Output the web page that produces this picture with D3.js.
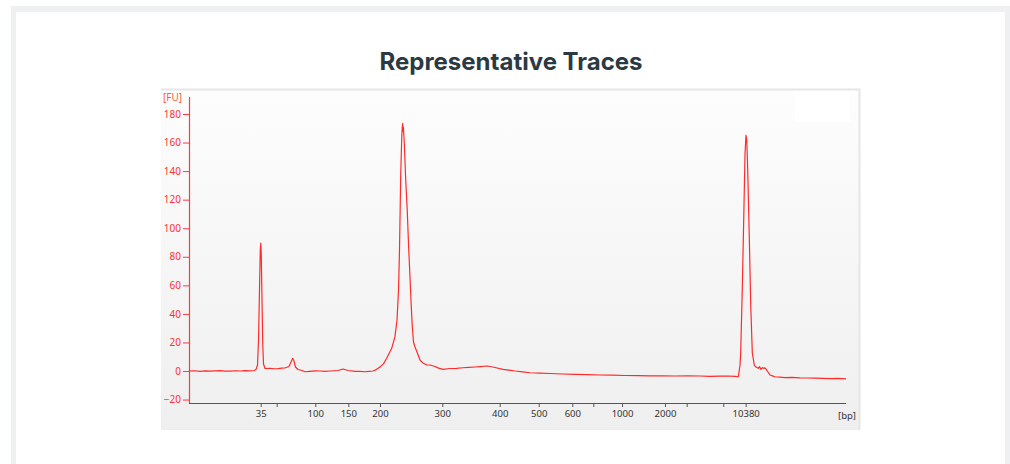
<!DOCTYPE html>
<html>
<head>
<meta charset="utf-8">
<script src="https://cdn.jsdelivr.net/npm/d3@7"></script>
<style>
  html, body { margin: 0; padding: 0; background: #ffffff; }
  svg { display: block; }
</style>
</head>
<body>
<svg id="chart" width="1010" height="464"></svg>
<script>
// ---- Data ----
// Ladder sizes (bp) and their migration times (s)
const ladderBp   = [35, 50, 100, 150, 200, 300, 400, 500, 600, 700, 1000, 2000, 3000, 7000, 10380];
const ladderTime = [30.91, 33.35, 39.22, 44.25, 49.07, 58.55, 67.29, 73.23, 78.34, 81.54, 85.91, 92.45, 95.75, 101.32, 104.73];
const labeledBp  = [35, 100, 150, 200, 300, 400, 500, 600, 1000, 2000, 10380];
const yTicks     = [-20, 0, 20, 40, 60, 80, 100, 120, 140, 160, 180];

// Electropherogram trace: time (s) and fluorescence (FU)
const traceTime = [
  20.00, 20.80, 21.67, 22.50, 23.30, 23.96, 24.80, 25.50, 26.24, 27.10, 27.80, 28.52, 29.20, 29.89, 30.20, 30.43, 30.58, 30.73, 30.85, 30.93,
  31.00, 31.11, 31.23, 31.34, 31.57, 32.33, 33.00, 33.55, 34.10, 34.61, 35.22, 35.53, 35.78, 35.98, 36.21, 36.59, 37.20, 37.66, 38.42, 39.20,
  39.94, 40.70, 41.46, 42.20, 42.68, 43.44, 44.20, 45.27, 46.00, 46.79, 47.40, 48.01, 48.50, 49.07, 49.60, 50.09, 50.85, 51.35, 51.66, 51.89,
  52.04, 52.22, 52.39, 52.47, 52.53, 52.58, 52.63, 52.77, 52.99, 53.22, 53.42, 53.64, 53.82, 53.99, 54.17, 54.40, 54.70, 55.16, 55.62, 56.18,
  56.68, 57.44, 58.00, 58.66, 59.73, 60.70, 61.70, 62.60, 63.53, 64.40, 65.36, 66.00, 66.58, 67.79, 68.70, 69.62, 70.80, 71.90, 73.40, 74.95,
  76.80, 78.75, 80.60, 82.56, 84.40, 86.36, 88.30, 90.17, 92.00, 93.97, 95.90, 97.78, 99.30, 100.82, 102.00, 103.11, 103.61, 103.87, 103.97, 104.22,
  104.43, 104.63, 104.78, 104.90, 105.04, 105.28, 105.49, 105.74, 106.04, 106.30, 106.65, 106.85, 107.06, 107.25, 107.41, 107.65, 107.93, 108.43, 108.80, 109.19,
  109.90, 110.72, 111.80, 113.00, 114.10, 115.28, 116.40, 117.56, 118.80, 120.00
];
const traceFU = [
  0.0, 0.2, -0.2, 0.1, -0.1, 0.1, 0.3, -0.1, -0.1, 0.2, 0.0, 0.3, 0.1, 0.35, 1.05, 4.2, 21.7, 56.7, 84.7, 89.6,
  81.2, 49.7, 18.2, 4.9, 1.75, 1.9, 1.6, 1.7, 2.0, 2.1, 3.15, 6.3, 8.9, 7.0, 2.8, 1.05, 0.35, -0.5, -0.2, 0.1,
  0.0, -0.2, 0.0, 0.2, 0.35, 1.4, 0.35, -0.3, -0.2, -0.5, -0.2, 0.0, 1.0, 2.8, 5.0, 8.9, 15.9, 24.1, 35.7, 56.7,
  84.7, 135.8, 165.1, 171.0, 173.5, 168.0, 170.7, 159.5, 133.4, 112.4, 87.8, 65.5, 46.2, 30.8, 20.3, 16.8, 13.3, 7.7, 5.6, 4.2,
  4.2, 3.15, 2.0, 1.2, 1.75, 1.9, 2.3, 2.5, 2.8, 3.1, 3.5, 3.0, 2.45, 1.2, 0.6, 0.0, -0.6, -1.2, -1.5, -1.75,
  -2.1, -2.3, -2.5, -2.8, -2.9, -3.15, -3.2, -3.35, -3.3, -3.5, -3.4, -3.5, -3.7, -3.6, -3.5, -3.7, -4.0, 4.2, 12.6, 59.0,
  105.7, 152.4, 165.1, 161.6, 140.6, 93.9, 47.6, 12.6, 4.2, 2.8, 1.9, 3.0, 1.05, 2.4, 1.9, 2.2, 0.7, -2.8, -3.4, -4.0,
  -4.3, -4.6, -4.5, -4.8, -4.9, -5.0, -5.1, -5.3, -5.2, -5.5
];

// ---- Layout ----
const svg = d3.select("#chart");
const W = 1010, H = 464;
const tickFont = "'Noto Sans', 'DejaVu Sans', sans-serif";

// page frame
svg.append("rect").attr("x", 11).attr("y", 6).attr("width", W - 11).attr("height", H - 6).attr("fill", "#eff0f1");
svg.append("rect").attr("x", 16).attr("y", 12).attr("width", 989).attr("height", H - 12).attr("fill", "#ffffff");

// title
svg.append("text")
  .attr("x", 511).attr("y", 70)
  .attr("text-anchor", "middle")
  .attr("font-family", "Inter, 'Noto Sans', sans-serif")
  .attr("font-weight", 700)
  .attr("font-size", 24)
  .attr("fill", "#2b3a42")
  .text("Representative Traces");

// chart image background
const defs = svg.append("defs");
const grad = defs.append("linearGradient").attr("id", "bg").attr("x1", 0).attr("y1", 0).attr("x2", 0).attr("y2", 1);
grad.append("stop").attr("offset", "0%").attr("stop-color", "#fdfdfd");
grad.append("stop").attr("offset", "100%").attr("stop-color", "#efefef");

const img = { x: 161, y: 89, w: 699, h: 341 };
svg.append("rect").attr("x", img.x).attr("y", img.y).attr("width", img.w).attr("height", img.h)
  .attr("fill", "url(#bg)");
svg.append("path")
  .attr("d", `M${img.x},${img.y + 0.5}H${img.x + img.w - 0.5}V${img.y + img.h}`)
  .attr("fill", "none").attr("stroke", "#e6e6e6").attr("stroke-width", 2);
// blank legend box
svg.append("rect").attr("x", 795).attr("y", 92).attr("width", 55).attr("height", 30).attr("fill", "#ffffff");

// ---- Scales ----
const plot = { left: 189, right: 846, top: 97, bottom: 403 };
const x = d3.scaleLinear().domain([20, 120]).range([plot.left, plot.right]);
const y = d3.scaleLinear().domain([-22.4, 191.9]).range([plot.bottom, plot.top]);

// ---- X axis ----
const xAxis = d3.axisBottom(x)
  .tickValues(ladderTime)
  .tickSize(4)
  .tickPadding(3)
  .tickFormat((t) => {
    const b = ladderBp[ladderTime.indexOf(t)];
    return labeledBp.includes(b) ? String(b) : "";
  });
const gx = svg.append("g").attr("transform", `translate(0,${plot.bottom})`).call(xAxis);
gx.select(".domain").attr("d", `M${plot.left},0.5H${plot.right}`).attr("stroke", "#555").attr("stroke-width", 1.2);
gx.selectAll(".tick line").attr("stroke", "#555");
gx.selectAll(".tick text")
  .attr("font-family", tickFont)
  .attr("font-size", 9.5)
  .attr("fill", "#333");
svg.append("text")
  .attr("x", 856).attr("y", 419)
  .attr("text-anchor", "end")
  .attr("font-family", tickFont)
  .attr("font-size", 9.5)
  .attr("fill", "#333")
  .text("[bp]");

// ---- Y axis ----
const yAxis = d3.axisLeft(y).tickValues(yTicks).tickSize(6).tickPadding(2);
const gy = svg.append("g").attr("transform", `translate(${plot.left},0)`).call(yAxis);
gy.select(".domain").attr("d", `M0.5,${plot.top}V${plot.bottom}`).attr("stroke", "#ff3b3b").attr("stroke-width", 1.2);
gy.selectAll(".tick line").attr("stroke", "#ff3b3b");
gy.selectAll(".tick text")
  .attr("font-family", tickFont)
  .attr("font-size", 10)
  .attr("fill", "#ff3030");
svg.append("text")
  .attr("x", 163).attr("y", 101)
  .attr("font-family", tickFont)
  .attr("font-size", 10)
  .attr("fill", "#ff5a3a")
  .text("[FU]");

// ---- Trace ----
const pts = traceTime.map((t, i) => [t, traceFU[i]]);
const line = d3.line().x(d => x(d[0])).y(d => y(d[1]));
svg.append("path")
  .datum(pts)
  .attr("d", line)
  .attr("fill", "none")
  .attr("stroke", "#ff2a2a")
  .attr("stroke-width", 1.2)
  .attr("stroke-linejoin", "round");
</script>
</body>
</html>
